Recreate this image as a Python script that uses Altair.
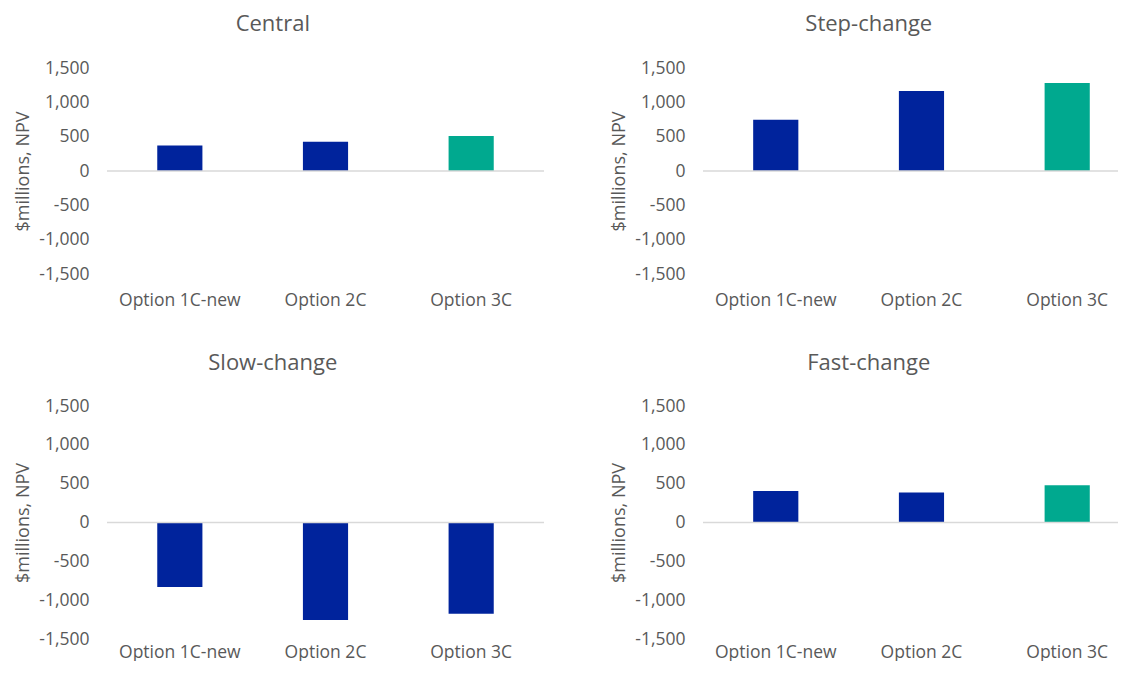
import altair as alt
import pandas as pd

options = ["Option 1C-new", "Option 2C", "Option 3C"]
scenarios = ["Central", "Step-change", "Slow-change", "Fast-change"]
central = [370, 425, 510]
step_change = [745, 1165, 1280]
slow_change = [-830, -1255, -1175]
fast_change = [405, 385, 480]
highlighted = ["Option 3C", "Option 3C", None, "Option 3C"]
y_ticks = [-1500, -1000, -500, 0, 500, 1000, 1500]

series = [central, step_change, slow_change, fast_change]

NAVY = "#00239C"
TEAL = "#00A98F"
GREY = "#595959"
FONT = "Open Sans"


def panel(name, vals, hl, width, height, x_outer, x_align, title_dx, title_offset, xlab_pad):
    df = pd.DataFrame({
        "option": options,
        "value": vals,
        "kind": ["hl" if o == hl else "base" for o in options],
    })
    y_axis = alt.Axis(values=y_ticks, grid=False, domain=False,
                      labelExpr="(datum.value < 0 ? '-' : '') + format(abs(datum.value), ',')",
                      ticks=False, labelPadding=18, labelFontSize=17.5,
                      labelColor=GREY, labelFont=FONT, labelOverlap=False,
                      title="$millions, NPV", titleFontSize=18,
                      titleFont=FONT, titleColor=GREY,
                      titleFontWeight="normal", titlePadding=6)
    y_scale = alt.Scale(domain=[-1500, 1500], nice=False, zero=True)
    bars = alt.Chart(df).mark_bar().encode(
        x=alt.X("option:N", sort=options,
                scale=alt.Scale(paddingInner=0.69, paddingOuter=x_outer, align=x_align),
                axis=alt.Axis(title=None, labelAngle=0, domain=False, ticks=False,
                              labelPadding=xlab_pad, labelFontSize=17.5, labelColor=GREY,
                              labelFont=FONT)),
        y=alt.Y("value:Q", scale=y_scale, axis=y_axis),
        color=alt.Color("kind:N", scale=alt.Scale(domain=["base", "hl"], range=[NAVY, TEAL]),
                        legend=None),
    )
    zero = alt.Chart(pd.DataFrame({"value": [0]})).mark_rule(color="#D9D9D9", strokeWidth=1.5).encode(
        y=alt.Y("value:Q", scale=y_scale, axis=y_axis)
    )
    return alt.layer(bars, zero).properties(
        width=width, height=height,
        title=alt.TitleParams(name, fontSize=22, font=FONT, color=GREY,
                              fontWeight="normal", anchor="middle", frame="bounds",
                              offset=title_offset, dx=title_dx),
    )


p = [
    panel(scenarios[0], series[0], highlighted[0], 437, 206, 0.345, 0.5, -7, 23, 17),
    panel(scenarios[1], series[1], highlighted[1], 415, 206, 0.269, 0.64, 4, 23, 17),
    panel(scenarios[2], series[2], highlighted[2], 437, 233, 0.345, 0.5, -7, 22.5, 4),
    panel(scenarios[3], series[3], highlighted[3], 415, 233, 0.269, 0.64, 4, 22.5, 4),
]

chart = alt.vconcat(
    alt.hconcat(p[0], p[1], spacing=65),
    alt.hconcat(p[2], p[3], spacing=65),
    spacing=42,
).properties(
    padding={"left": 6, "top": 5, "right": 0, "bottom": 0},
    background="white",
).configure_view(strokeWidth=0).configure_axis(labelOverlap=False)

chart.save("out.html", embed_options={"renderer": "svg", "actions": False})
